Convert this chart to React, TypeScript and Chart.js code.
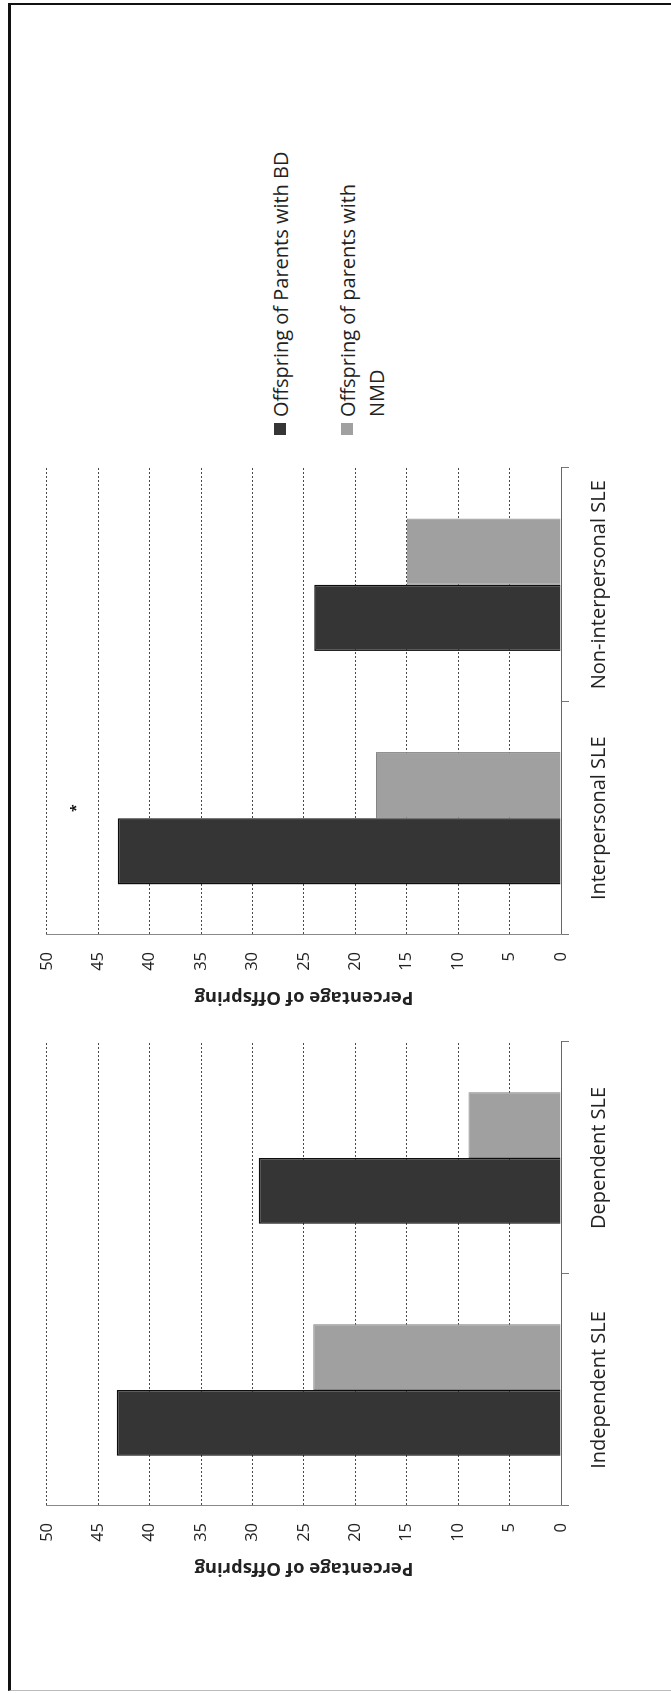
import React, { useEffect, useRef } from 'react';
import { Chart, registerables } from 'chart.js';

Chart.register(...registerables);

// ---- data ----
const categoriesA = ['Independent SLE', 'Dependent SLE'];
const bdA = [43.2, 29.4];
const nmdA = [24.1, 9.0];

const categoriesB = ['Interpersonal SLE', 'Non-interpersonal SLE'];
const bdB = [43.1, 24.0];
const nmdB = [18.0, 15.0];

const seriesLabels = ['Offspring of Parents with BD', 'Offspring of parents with NMD'];
const axisTitle = 'Percentage of Offspring';
const yMin = 0;
const yMax = 50;
const yStep = 5;
const marksA: { category: string; value: number; text: string }[] = [];
const marksB = [{ category: 'Interpersonal SLE', value: 47.4, text: '*' }];

// ---- style ----
const FONT = '"Open Sans", sans-serif';
const COLORS = { bd: '#353535', bdBorder: '#0d0d0d', nmd: '#a0a0a0', nmdBorder: '#858585' };

const starPlugin = {
  id: 'star',
  afterDatasetsDraw(chart: any, _args: any, opts: any) {
    const marks = (opts && opts.marks) || [];
    const { ctx } = chart;
    const x = chart.scales.x;
    const y = chart.scales.y;
    marks.forEach((m: any) => {
      const idx = chart.data.labels.indexOf(m.category);
      if (idx < 0) return;
      const px = x.getPixelForValue(idx) + (opts.dx || 0);
      const py = y.getPixelForValue(m.value);
      ctx.save();
      ctx.fillStyle = '#111';
      ctx.font = `bold 14px ${FONT}`;
      ctx.textAlign = 'center';
      ctx.textBaseline = 'middle';
      ctx.fillText(m.text, px, py + 3);
      ctx.restore();
    });
  },
};

type PanelProps = {
  labels: string[];
  bd: number[];
  nmd: number[];
  marks: { category: string; value: number; text: string }[];
  left: number;
  top: number;
  width: number;
  height: number;
};

function BarPanel({ labels, bd, nmd, marks, left, top, width, height }: PanelProps) {
  const ref = useRef<HTMLCanvasElement>(null);
  useEffect(() => {
    const chart = new Chart(ref.current as HTMLCanvasElement, {
      type: 'bar',
      data: {
        labels,
        datasets: [
          { label: seriesLabels[0], data: bd, backgroundColor: COLORS.bd, borderColor: COLORS.bdBorder, borderWidth: 1.5 },
          { label: seriesLabels[1], data: nmd, backgroundColor: COLORS.nmd, borderColor: COLORS.nmdBorder, borderWidth: 1 },
        ],
      },
      options: {
        responsive: false,
        animation: false,
        devicePixelRatio: 1,
        layout: { padding: { top: 22, right: 9, left: 0, bottom: 0 } },
        datasets: { bar: { categoryPercentage: 0.567, barPercentage: 1 } },
        plugins: {
          legend: { display: false },
          tooltip: { enabled: false },
          // @ts-ignore
          star: { marks, dx: 10 },
        },
        scales: {
          x: {
            grid: { drawOnChartArea: false, drawTicks: true, tickLength: 8, tickColor: '#777', offset: true },
            border: { display: true, color: '#666' },
            ticks: { padding: 18, color: '#222', font: { family: FONT, size: 20 }, maxRotation: 0, autoSkip: false },
            afterFit: (s: any) => { s.height = height - 541; },
          },
          y: {
            min: yMin,
            max: yMax,
            ticks: { stepSize: yStep, padding: 17, color: '#222', font: { family: FONT, size: 16.5 } },
            grid: { color: '#4a4a4a', lineWidth: 1, drawTicks: false },
            border: { display: true, color: '#888', dash: [2, 2] },
            title: {
              display: true,
              text: axisTitle,
              color: '#222',
              font: { family: FONT, size: 18.5, weight: 'bold' },
              padding: { top: 14, bottom: 0 },
            },
            afterFit: (s: any) => { s.width = 87; },
          },
        },
      } as any,
      plugins: [starPlugin as any],
    });
    return () => chart.destroy();
  }, []);
  return (
    <canvas
      ref={ref}
      width={width}
      height={height}
      style={{ position: 'absolute', left, top, width, height }}
    />
  );
}

export default function App() {
  return (
    <div style={{ position: 'absolute', left: 0, top: 0, width: 671, height: 1693, overflow: 'hidden', background: '#fff' }}>
      <div
        style={{
          position: 'absolute',
          left: 0,
          top: 0,
          width: 1693,
          height: 671,
          transformOrigin: '0 0',
          transform: 'translateY(1693px) rotate(-90deg)',
          fontFamily: FONT,
          background: '#fff',
        }}
      >
        <div
          style={{
            position: 'absolute',
            left: 2,
            top: 8,
            width: 1688,
            height: 700,
            borderTop: '3px solid #111',
            borderRight: '2px solid #111',
            borderLeft: '1px solid #bbb',
            boxSizing: 'border-box',
          }}
        />
        <BarPanel labels={categoriesA} bd={bdA} nmd={nmdA} marks={marksA} left={100} top={20} width={560} height={660} />
        <BarPanel labels={categoriesB} bd={bdB} nmd={nmdB} marks={marksB} left={671} top={20} width={563} height={660} />
        <div style={{ position: 'absolute', left: 1258, top: 274, width: 12, height: 12, background: COLORS.bd }} />
        <div style={{ position: 'absolute', left: 1276, top: 265.5, fontSize: 20, lineHeight: '29px', color: '#222', whiteSpace: 'nowrap' }}>
          {seriesLabels[0]}
        </div>
        <div style={{ position: 'absolute', left: 1258, top: 341, width: 12, height: 12, background: COLORS.nmd }} />
        <div style={{ position: 'absolute', left: 1276, top: 332.5, width: 250, fontSize: 20, lineHeight: '29px', color: '#222' }}>
          {seriesLabels[1]}
        </div>
      </div>
    </div>
  );
}
